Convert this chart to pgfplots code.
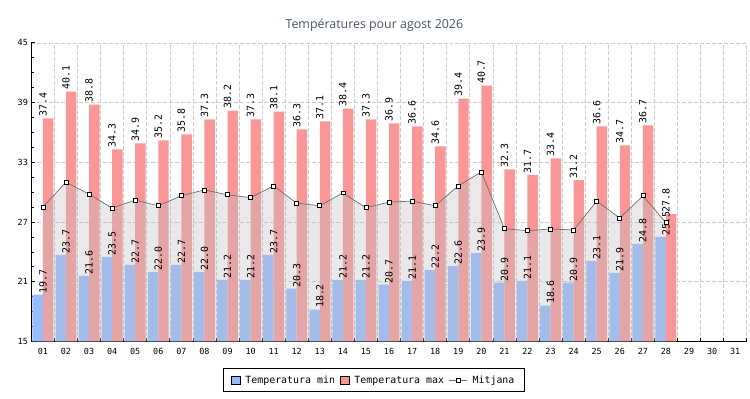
\documentclass[border=0pt]{standalone}
\usepackage{fontspec}
\usepackage{pgfplots}
\pgfplotsset{compat=1.18}
\setmainfont{DejaVu Sans Mono}
\newfontfamily\titlefont{Open Sans}
\definecolor{minblue}{RGB}{150,187,255}
\definecolor{maxred}{RGB}{250,150,150}
\definecolor{fillgray}{RGB}{192,192,196}
\definecolor{gridgray}{RGB}{204,204,204}
\definecolor{titlecol}{RGB}{71,83,102}
\definecolor{linegray}{RGB}{110,110,110}
\begin{document}
\begin{tikzpicture}
\path (0,0) rectangle (750bp,400bp);
\begin{axis}[
  at={(31.5bp,57bp)}, anchor=south west,
  scale only axis, width=718.5bp, height=300bp,
  xmin=0.5, xmax=31.5, ymin=15, ymax=45,
  axis x line*=bottom, axis y line*=left,
  axis line style={black, line width=0.8bp},
  xtick={0.5,1.5,...,31.5}, xticklabels={},
  extra x ticks={1,2,...,31},
  extra x tick labels={01,02,03,04,05,06,07,08,09,10,11,12,13,14,15,16,17,18,19,20,21,22,23,24,25,26,27,28,29,30,31},
  extra x tick style={major tick length=0pt, grid=none},
  ytick={15,21,27,33,39,45},
  minor y tick num=3,
  tick align=inside,
  major tick length=4bp, minor tick length=3bp,
  tick style={black, line width=0.7bp},
  grid=major,
  major grid style={gridgray, dash pattern=on 4bp off 2bp, line width=0.6bp},
  ticklabel style={font=\fontsize{8.5}{9}\selectfont},
  /pgf/number format/assume math mode=true,
  xticklabel style={yshift=-3.5bp},
  legend columns=3,
  legend style={at={(0.4785,-0.13)}, anchor=center, draw=black, line width=0.8bp,
    font=\fontsize{10}{11}\selectfont, inner xsep=8bp, inner ysep=5bp,
    /tikz/every odd column/.append style={column sep=3bp},
    /tikz/every even column/.append style={column sep=3bp}},
  legend cell align=left,
]
\addplot[ybar, bar width=10.5bp, bar shift=-5.25bp, fill=minblue, draw=none,
  nodes near coords, nodes near coords style={rotate=90, anchor=west, inner sep=1.5bp, font=\fontsize{10}{10}\selectfont, black, /pgf/number format/.cd, fixed, fixed zerofill, precision=1, assume math mode=true},
  legend image code/.code={\draw[black, line width=0.6bp, fill=minblue] (0bp,-4.5bp) rectangle (9bp,4.5bp);}]
coordinates {(1,19.7)(2,23.7)(3,21.6)(4,23.5)(5,22.7)(6,22.0)(7,22.7)(8,22.0)(9,21.2)(10,21.2)(11,23.7)(12,20.3)(13,18.2)(14,21.2)(15,21.2)(16,20.7)(17,21.1)(18,22.2)(19,22.6)(20,23.9)(21,20.9)(22,21.1)(23,18.6)(24,20.9)(25,23.1)(26,21.9)(27,24.8)(28,25.5)};
\addlegendentry{Temperatura min}
\addplot[ybar, bar width=10.5bp, bar shift=5.25bp, fill=maxred, draw=none,
  nodes near coords, nodes near coords style={rotate=90, anchor=west, inner sep=1.5bp, font=\fontsize{10}{10}\selectfont, black, /pgf/number format/.cd, fixed, fixed zerofill, precision=1, assume math mode=true},
  legend image code/.code={\draw[black, line width=0.6bp, fill=maxred] (0bp,-4.5bp) rectangle (9bp,4.5bp);}]
coordinates {(1,37.4)(2,40.1)(3,38.8)(4,34.3)(5,34.9)(6,35.2)(7,35.8)(8,37.3)(9,38.2)(10,37.3)(11,38.1)(12,36.3)(13,37.1)(14,38.4)(15,37.3)(16,36.9)(17,36.6)(18,34.6)(19,39.4)(20,40.7)(21,32.3)(22,31.7)(23,33.4)(24,31.2)(25,36.6)(26,34.7)(27,36.7)(28,27.8)};
\addlegendentry{Temperatura max}
\addplot[draw=none, fill=fillgray, fill opacity=0.35, forget plot]
coordinates {(1,28.5)(2,31.0)(3,29.8)(4,28.4)(5,29.2)(6,28.63)(7,29.63)(8,30.23)(9,29.73)(10,29.45)(11,30.63)(12,28.9)(13,28.63)(14,29.93)(15,28.43)(16,29.0)(17,29.1)(18,28.63)(19,30.63)(20,32.03)(21,26.33)(22,26.13)(23,26.3)(24,26.2)(25,29.1)(26,27.4)(27,29.63)(28,26.93)} \closedcycle;
\addplot[color=linegray, line width=0.7bp, mark=square*, mark size=2bp,
  mark options={fill=white, draw=black, line width=0.7bp},
  legend image code/.code={\draw[linegray, line width=0.7bp] (0bp,0bp) -- (18bp,0bp); \draw[black, fill=white, line width=0.7bp] (7bp,-2bp) rectangle (11bp,2bp);}]
coordinates {(1,28.5)(2,31.0)(3,29.8)(4,28.4)(5,29.2)(6,28.63)(7,29.63)(8,30.23)(9,29.73)(10,29.45)(11,30.63)(12,28.9)(13,28.63)(14,29.93)(15,28.43)(16,29.0)(17,29.1)(18,28.63)(19,30.63)(20,32.03)(21,26.33)(22,26.13)(23,26.3)(24,26.2)(25,29.1)(26,27.4)(27,29.63)(28,26.93)};
\addlegendentry{Mitjana}
\end{axis}
\node[font=\titlefont\fontsize{12.5}{14}\selectfont, text=titlecol] at (376bp,375bp) {Températures pour agost 2026};
\end{tikzpicture}
\end{document}
